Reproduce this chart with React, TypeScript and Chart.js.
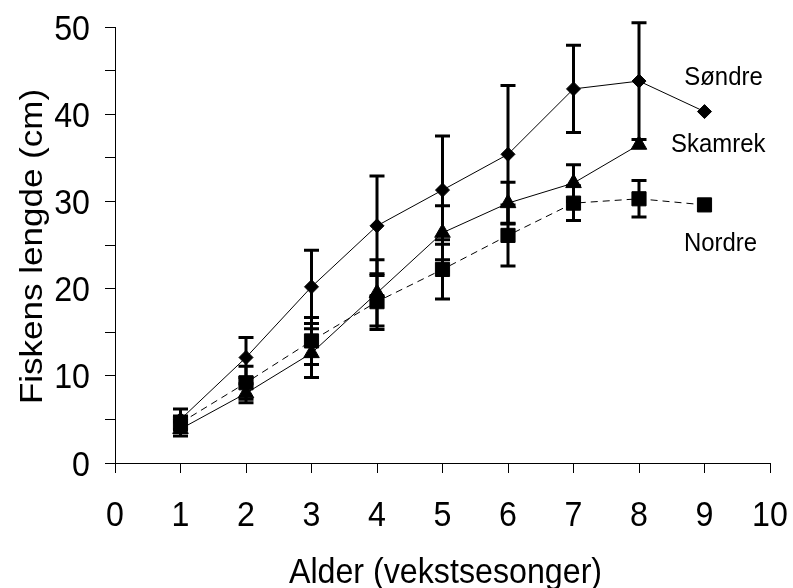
import React, { useEffect, useRef } from "react";
import { Chart, registerables } from "chart.js";

Chart.register(...registerables);

// ---- data ----
const ages = [1, 2, 3, 4, 5, 6, 7, 8, 9];
const sondre = [5.0, 12.1, 20.2, 27.2, 31.3, 35.4, 42.9, 43.8, 40.3];
const sondreErr = [1.2, 2.3, 4.2, 5.7, 6.2, 7.9, 5.0, 6.7, 0];
const skamrek = [3.9, 8.0, 12.6, 19.5, 26.4, 29.8, 32.1, 36.5, null];
const skamrekErr = [0.8, 1.1, 2.8, 3.8, 3.1, 2.4, 2.1, 0, 0];
const nordre = [4.6, 9.2, 14.0, 18.5, 22.2, 26.1, 29.8, 30.3, 29.6];
const nordreErr = [0.8, 1.9, 2.7, 3.2, 3.4, 3.5, 2.0, 2.1, 0];

const xTickLabels = [0, 1, 2, 3, 4, 5, 6, 7, 8, 9, 10];
const yTickLabels = [0, 10, 20, 30, 40, 50];

const xTitle = "Alder (vekstsesonger)";
const yTitle = "Fiskens lengde (cm)";

// series name labels (anchored in axis units)
const seriesLabels = [
  { text: "Søndre", x: 9.29, y: 43.35 },
  { text: "Skamrek", x: 9.21, y: 35.67 },
  { text: "Nordre", x: 9.245, y: 24.3 },
];

const FONT = '"Liberation Sans", Arial, sans-serif';
const SQUEEZE = 0.92;

function toPoints(vals: (number | null)[]) {
  const pts: { x: number; y: number }[] = [];
  vals.forEach((v, i) => {
    if (v !== null) pts.push({ x: ages[i], y: v });
  });
  return pts;
}

const errorBarPlugin = {
  id: "errorBars",
  beforeDatasetsDraw(chart: any) {
    const ctx = chart.ctx;
    const xs = chart.scales.x;
    const ys = chart.scales.y;
    ctx.save();
    ctx.strokeStyle = "#000";
    ctx.lineWidth = 3;
    ctx.lineCap = "butt";
    chart.data.datasets.forEach((ds: any) => {
      const errs: number[] = ds.errors || [];
      ds.data.forEach((p: any, i: number) => {
        const e = errs[i];
        if (!e) return;
        const px = xs.getPixelForValue(p.x);
        const top = ys.getPixelForValue(p.y + e);
        const bot = ys.getPixelForValue(p.y - e);
        ctx.beginPath();
        ctx.moveTo(px, top);
        ctx.lineTo(px, bot);
        ctx.moveTo(px - 7.5, top);
        ctx.lineTo(px + 7.5, top);
        ctx.moveTo(px - 7.5, bot);
        ctx.lineTo(px + 7.5, bot);
        ctx.stroke();
      });
    });
    ctx.restore();
  },
};

function squeezedText(ctx: CanvasRenderingContext2D, text: string, x: number, y: number, align: CanvasTextAlign) {
  ctx.save();
  ctx.translate(x, y);
  ctx.scale(SQUEEZE, 1);
  ctx.textAlign = align;
  ctx.textBaseline = "alphabetic";
  ctx.fillText(text, 0, 0);
  ctx.restore();
}

const textPlugin = {
  id: "texts",
  afterDraw(chart: any) {
    const ctx: CanvasRenderingContext2D = chart.ctx;
    const xs = chart.scales.x;
    const ys = chart.scales.y;
    const area = chart.chartArea;
    ctx.save();
    ctx.fillStyle = "#000";
    ctx.font = `35px ${FONT}`;
    // y tick labels
    yTickLabels.forEach((v) => {
      squeezedText(ctx, String(v), area.left - 25, ys.getPixelForValue(v) + 12.5, "right");
    });
    // x tick labels
    xTickLabels.forEach((v) => {
      squeezedText(ctx, String(v), xs.getPixelForValue(v), area.bottom + 63, "center");
    });
    // x title
    squeezedText(ctx, xTitle, (area.left + area.right) / 2 + 3, area.bottom + 120, "center");
    // y title (rotated)
    ctx.save();
    ctx.translate(area.left - 73, (area.top + area.bottom) / 2 + 1.5);
    ctx.rotate(-Math.PI / 2);
    ctx.scale(1, SQUEEZE);
    ctx.textAlign = "center";
    ctx.textBaseline = "alphabetic";
    ctx.fillText(yTitle, 0, 0);
    ctx.restore();
    // series labels
    ctx.font = `26px ${FONT}`;
    seriesLabels.forEach((l) => {
      squeezedText(ctx, l.text, xs.getPixelForValue(l.x), ys.getPixelForValue(l.y), "center");
    });
    ctx.restore();
  },
};

export default function App() {
  const canvasRef = useRef<HTMLCanvasElement | null>(null);

  useEffect(() => {
    const canvas = canvasRef.current;
    if (!canvas) return;
    const common = {
      showLine: true,
      borderColor: "#000",
      borderWidth: 1,
      backgroundColor: "#000",
      pointBackgroundColor: "#000",
      pointBorderColor: "#000",
      pointBorderWidth: 1,
      pointHoverRadius: 0,
      tension: 0,
    };
    const chart = new Chart(canvas, {
      type: "scatter",
      data: {
        datasets: [
          {
            ...common,
            label: "Søndre",
            data: toPoints(sondre),
            errors: sondreErr,
            pointStyle: "rectRot",
            pointRadius: 7,
          } as any,
          {
            ...common,
            label: "Skamrek",
            data: toPoints(skamrek),
            errors: skamrekErr,
            pointStyle: "triangle",
            pointRadius: 9,
          } as any,
          {
            ...common,
            label: "Nordre",
            data: toPoints(nordre),
            errors: nordreErr,
            pointStyle: "rect",
            pointRadius: 10,
            borderDash: [7, 5],
          } as any,
        ],
      },
      options: {
        animation: false,
        responsive: false,
        devicePixelRatio: 1,
        events: [],
        layout: { padding: { left: 0, right: 23, top: 27, bottom: 0 } },
        plugins: {
          legend: { display: false },
          tooltip: { enabled: false },
          title: { display: false },
        },
        scales: {
          x: {
            type: "linear",
            min: 0,
            max: 10,
            ticks: { stepSize: 1, display: false },
            grid: {
              display: true,
              drawOnChartArea: false,
              drawTicks: true,
              tickLength: 10,
              color: "#000",
              lineWidth: 1,
            },
            border: { display: true, color: "#000", width: 1 },
            title: { display: false },
            afterFit: (s: any) => {
              s.height = 125;
            },
          },
          y: {
            type: "linear",
            min: 0,
            max: 50,
            ticks: { stepSize: 5, display: false },
            grid: {
              display: true,
              drawOnChartArea: false,
              drawTicks: true,
              tickLength: 10,
              color: "#000",
              lineWidth: 1,
            },
            border: { display: true, color: "#000", width: 1 },
            title: { display: false },
            afterFit: (s: any) => {
              s.width = 115;
            },
          },
        },
      } as any,
      plugins: [errorBarPlugin, textPlugin],
    });
    return () => chart.destroy();
  }, []);

  return (
    <div style={{ position: "absolute", left: 0, top: 0, width: 793, height: 588, background: "#fff" }}>
      <canvas ref={canvasRef} width={793} height={588} style={{ width: 793, height: 588, display: "block" }} />
    </div>
  );
}
